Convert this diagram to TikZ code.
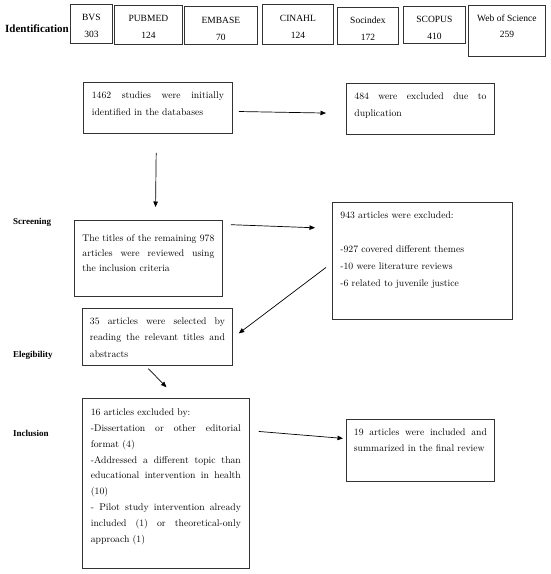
\documentclass[tikz,border=0pt]{standalone}
\usepackage{fontspec}
\newfontfamily\tnr{Liberation Serif}
\usetikzlibrary{arrows.meta}
\newcommand\jl[1]{\makebox[\linewidth][s]{#1}}
\newcommand\bxt[5]{\parbox[b][#2][t]{#1}{\vspace*{#3}\hspace*{#4}\parbox[t]{\dimexpr#1-#4-#4\relax}{#5}}}
\newcommand\dbc[5]{\parbox[b][#2][t]{#1}{\vspace*{#3}\centering #4\\#5\par}}
\tikzset{
  tb/.style={draw=black!80, line width=0.8pt, inner sep=0pt, anchor=north west, font=\fontsize{9.7}{16.5}\selectfont},
  db/.style={draw=black!80, line width=0.8pt, inner sep=0pt, anchor=north west, font=\tnr\fontsize{9.5}{16.5}\selectfont},
  lab/.style={anchor=west, inner sep=0pt, font=\tnr\bfseries\fontsize{9}{11}\selectfont},
  arr/.style={draw=black, line width=0.7pt, -{Triangle[length=5.5pt,width=4.5pt]}}
}
\begin{document}
\begin{tikzpicture}[x=1pt,y=-1pt]
\useasboundingbox (0,0) rectangle (550,574);
% labels
\node[lab, font=\tnr\bfseries\fontsize{11}{13}\selectfont] (l1) at (5,29) {Identification};
\node[lab] (l2) at (13,222) {Screening};
\node[lab] (l3) at (13,355) {Elegibility};
\node[lab] (l4) at (13,433) {Inclusion};
% databases
\node[db] (d1) at (70,4) {\dbc{42pt}{39pt}{10.2pt}{BVS}{303}};
\node[db] (d2) at (114,5) {\dbc{68pt}{39pt}{10pt}{PUBMED}{124}};
\node[db] (d3) at (184,6) {\dbc{73pt}{38pt}{10.9pt}{EMBASE}{70}};
\node[db] (d4) at (262,4) {\dbc{71pt}{40pt}{11.2pt}{CINAHL}{124}};
\node[db] (d5) at (337,7) {\dbc{61pt}{37pt}{9.7pt}{Socindex}{172}};
\node[db] (d6) at (403,6) {\dbc{62pt}{37pt}{10.2pt}{SCOPUS}{410}};
\node[db] (d7) at (468,5) {\dbc{77pt}{51pt}{9.2pt}{Web of Science}{259}};
% boxes
\node[tb] (b1) at (83,82) {\bxt{149pt}{51pt}{9.7pt}{8.5pt}{\jl{1462 studies were initially}\\identified in the databases}};
\node[tb] (ex1) at (346,83) {\bxt{148pt}{51pt}{9.7pt}{8pt}{\jl{484 were excluded due to}\\duplication}};
\node[tb, font=\fontsize{9.7}{15}\selectfont] (b2) at (74,220) {\bxt{148pt}{76pt}{14pt}{8pt}{\jl{The titles of the remaining 978}\\\jl{articles were reviewed using}\\the inclusion criteria}};
\node[tb, font=\fontsize{9.7}{17}\selectfont] (ex2) at (332,202) {\bxt{180pt}{117pt}{9.2pt}{8pt}{943 articles were excluded:\\[17pt]-927 covered different themes\\-10 were literature reviews\\-6 related to juvenile justice}};
\node[tb] (b3) at (82,308) {\bxt{150pt}{57pt}{9.2pt}{7.5pt}{\jl{35 articles were selected by}\\\jl{reading the relevant titles and}\\abstracts}};
\node[tb, font=\fontsize{9.7}{15.9}\selectfont] (b4) at (82,398) {\bxt{167pt}{170pt}{10.2pt}{8.5pt}{16 articles excluded by:\\\jl{-Dissertation or other editorial}\\format (4)\\\jl{-Addressed a different topic than}\\\jl{educational intervention in health}\\(10)\\\jl{- Pilot study intervention already}\\\jl{included (1) or theoretical-only}\\approach (1)}};
\node[tb] (b5) at (346,419) {\bxt{148pt}{62pt}{9.2pt}{7.5pt}{\jl{19 articles were included and}\\summarized in the final review}};
% arrows
\draw[arr, shorten <=6pt, shorten >=20pt] ([yshift=-3.5pt]b1.east) -- ([yshift=-4.5pt]ex1.west);
\draw[arr, shorten <=19pt, shorten >=13pt] ([xshift=-1.5pt]b1.south) -- ([xshift=7pt]b2.north);
\draw[arr, shorten <=8pt, shorten >=17pt] ([yshift=34pt]b2.east) -- ([yshift=32.5pt]ex2.west);
\draw[arr, shorten <=7.5pt, shorten >=7.5pt] ([yshift=-2pt]ex2.west) -- ([yshift=-1pt]b3.east);
\draw[arr, shorten <=4pt, shorten >=15pt] ([xshift=-11.8pt]b3.south) -- ([xshift=11pt]b4.north);
\draw[arr, shorten <=9pt, shorten >=3pt] ([yshift=52.7pt]b4.east) -- ([yshift=11.75pt]b5.west);
\end{tikzpicture}
\end{document}
